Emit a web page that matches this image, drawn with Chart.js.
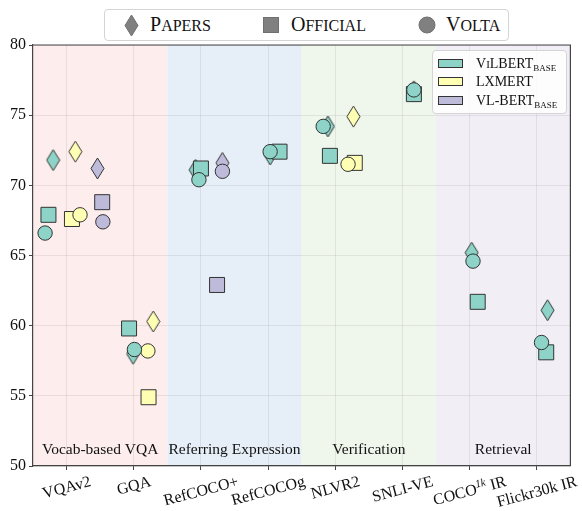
<!DOCTYPE html>
<html><head><meta charset="utf-8">
<script src="https://cdn.jsdelivr.net/npm/chart.js@4"></script>
<style>
html,body{margin:0;padding:0;background:#fff;}
#wrap{position:relative;width:582px;height:511px;overflow:hidden;}
#c{position:absolute;left:0;top:0;}
.serif{font-family:"Liberation Serif","Times New Roman",serif;color:#111;}
#topLegend{position:absolute;left:104px;top:9px;width:405px;height:32px;border:1px solid #d4d4d4;border-radius:4px;background:#fff;box-sizing:border-box;}
#topLegend .mk{position:absolute;}
#topLegend .tx{position:absolute;top:4px;font-size:20px;line-height:20px;white-space:nowrap;}
#topLegend .tx span{font-size:16px;}
#sideLegend{position:absolute;left:432px;top:50px;width:135px;height:64px;border:1px solid #d4d4d4;border-radius:4px;background:rgba(255,255,255,0.85);box-sizing:border-box;}
#sideLegend .patch{position:absolute;left:5px;width:25px;height:9px;border:1px solid #333;box-sizing:border-box;}
#sideLegend .tx{position:absolute;left:43px;font-size:14px;line-height:14px;white-space:nowrap;}
#sideLegend .sc{font-size:11px;}
#sideLegend sub{font-size:9px;vertical-align:-3px;line-height:0;}
</style>
</head><body>
<div id="wrap">
<canvas id="c" width="582" height="511"></canvas>
<div id="topLegend" class="serif">
  <svg class="mk" style="left:19px;top:4px" width="15" height="23"><path d="M7.5 1 L14 11.5 L7.5 22 L1 11.5 Z" fill="#808080" stroke="#707070" stroke-width="1"/></svg>
  <div class="tx" style="left:45px">P<span>APERS</span></div>
  <svg class="mk" style="left:158px;top:7px" width="16" height="16"><rect x="0.5" y="0.5" width="15" height="15" fill="#808080" stroke="#707070" stroke-width="1"/></svg>
  <div class="tx" style="left:186px">O<span>FFICIAL</span></div>
  <svg class="mk" style="left:313px;top:6px" width="18" height="18"><circle cx="9" cy="9" r="8" fill="#808080" stroke="#707070" stroke-width="1"/></svg>
  <div class="tx" style="left:341px">V<span>OLTA</span></div>
</div>
<div id="sideLegend" class="serif">
  <div class="patch" style="top:8px;background:#8dd3c7"></div>
  <div class="tx" style="top:6px">V<span class="sc">I</span>LBERT<sub>BASE</sub></div>
  <div class="patch" style="top:26px;background:#ffffb3"></div>
  <div class="tx" style="top:24px">LXMERT</div>
  <div class="patch" style="top:45px;background:#bebada"></div>
  <div class="tx" style="top:43px">VL-BERT<sub>BASE</sub></div>
</div>
</div>
<script>
// ---------- data ----------
const categories = ['VQAv2','GQA','RefCOCO+','RefCOCOg','NLVR2','SNLI-VE','COCO^{1k} IR','Flickr30k IR'];
const taskGroups = ['Vocab-based VQA','Referring Expression','Verification','Retrieval'];
const groupRanges = [[0,1],[2,3],[4,5],[6,7]];
const yTicks = [50,55,60,65,70,75,80];

const vilbertPapers   = [71.8, 58.0, 71.1, 72.2, 74.2, 76.7, 65.2, 61.1];
const vilbertOfficial = [67.9, 59.8, 71.2, 72.4, 72.1, 76.5, 61.7, 58.1];
const vilbertVolta    = [66.6, 58.3, 70.4, 72.4, 74.2, 76.8, 64.6, 58.8];
const lxmertPapers    = [72.4, 60.3, null, null, 74.9, null, null, null];
const lxmertOfficial  = [67.6, 54.9, null, null, 71.6, null, null, null];
const lxmertVolta     = [67.9, 58.2, null, null, 71.5, null, null, null];
const vlbertPapers    = [71.2, null, 71.6, null, null, null, null, null];
const vlbertOfficial  = [68.8, null, 62.9, null, null, null, null, null];
const vlbertVolta     = [67.4, null, 71.0, null, null, null, null, null];

// horizontal jitter of each marker within its category (category units)
const vilbertPapersJit   = [-0.20,-0.01,-0.08, 0.03,-0.11, 0.17, 0.03, 0.16];
const vilbertOfficialJit = [-0.27,-0.07, 0.00, 0.17,-0.08, 0.17, 0.12, 0.14];
const vilbertVoltaJit    = [-0.32, 0.01,-0.03, 0.03,-0.18, 0.17, 0.05, 0.07];
const lxmertPapersJit    = [ 0.13, 0.29, 0, 0, 0.27, 0, 0, 0];
const lxmertOfficialJit  = [ 0.08, 0.22, 0, 0, 0.29, 0, 0, 0];
const lxmertVoltaJit     = [ 0.20, 0.21, 0, 0, 0.19, 0, 0, 0];
const vlbertPapersJit    = [ 0.46, 0, 0.32, 0, 0, 0, 0, 0];
const vlbertOfficialJit  = [ 0.53, 0, 0.24, 0, 0, 0, 0, 0];
const vlbertVoltaJit     = [ 0.54, 0, 0.32, 0, 0, 0, 0, 0];

// ---------- styles ----------
const FONT = '"Liberation Serif","Times New Roman",serif';
const modelColors = {vilbert:'#8dd3c7', lxmert:'#ffffb3', vlbert:'#bebada'};
const bandColors = ['#fdeded','#e6eef7','#eff6ec','#f2eef6'];
const EDGE = '#333';

function diamondImg(fill){
  const c = document.createElement('canvas'); c.width = 15; c.height = 23;
  const g = c.getContext('2d');
  g.beginPath(); g.moveTo(7.5,1); g.lineTo(14,11.5); g.lineTo(7.5,22); g.lineTo(1,11.5); g.closePath();
  g.fillStyle = fill; g.fill(); g.lineWidth = 1; g.strokeStyle = EDGE; g.stroke();
  return c;
}
function pts(vals, jit){
  const out = [];
  vals.forEach((v,i)=>{ if (v !== null) out.push({x: i + jit[i], y: v}); });
  return out;
}
const series = [
  ['vilbert', vilbertPapers, vilbertPapersJit, vilbertOfficial, vilbertOfficialJit, vilbertVolta, vilbertVoltaJit],
  ['lxmert', lxmertPapers, lxmertPapersJit, lxmertOfficial, lxmertOfficialJit, lxmertVolta, lxmertVoltaJit],
  ['vlbert', vlbertPapers, vlbertPapersJit, vlbertOfficial, vlbertOfficialJit, vlbertVolta, vlbertVoltaJit]
];
const datasets = [];
series.forEach(([m, p, pj, o, oj, v, vj])=>{
  const col = modelColors[m];
  datasets.push({label:m+' papers', data:pts(p,pj), pointStyle:diamondImg(col), pointRadius:8, order:2});
  datasets.push({label:m+' official', data:pts(o,oj), pointStyle:'rect', pointRadius:10.6,
    backgroundColor:col, borderColor:EDGE, borderWidth:1, order:1});
  datasets.push({label:m+' volta', data:pts(v,vj), pointStyle:'circle', pointRadius:7.2,
    backgroundColor:col, borderColor:EDGE, borderWidth:1, order:0});
});

function parseRuns(label){
  const runs = []; const re = /\^\{([^}]*)\}/g; let last = 0, m;
  while ((m = re.exec(label))) {
    if (m.index > last) runs.push({t: label.slice(last, m.index), sup:false});
    runs.push({t: m[1], sup:true}); last = re.lastIndex;
  }
  if (last < label.length) runs.push({t: label.slice(last), sup:false});
  return runs;
}

const decor = {
  id:'decor',
  beforeDraw(chart){
    const {ctx, chartArea:a, scales:{x}} = chart;
    ctx.save();
    groupRanges.forEach((r,i)=>{
      const x0 = x.getPixelForValue(r[0]-0.5), x1 = x.getPixelForValue(r[1]+0.5);
      ctx.fillStyle = bandColors[i];
      ctx.fillRect(x0, a.top, x1-x0, a.bottom-a.top);
    });
    ctx.restore();
  },
  beforeDatasetsDraw(chart){
    const {ctx, chartArea:a, scales:{x}} = chart;
    ctx.save();
    ctx.font = '15.5px ' + FONT; ctx.fillStyle = '#111';
    ctx.textAlign = 'center'; ctx.textBaseline = 'alphabetic';
    groupRanges.forEach((r,i)=>{
      const cx = (x.getPixelForValue(r[0]-0.5) + x.getPixelForValue(r[1]+0.5))/2;
      ctx.fillText(taskGroups[i], cx, a.bottom - 12);
    });
    ctx.restore();
  },
  afterDraw(chart){
    const {ctx, chartArea:a, scales:{x}} = chart;
    ctx.save();
    // top and right spines
    ctx.strokeStyle = '#444'; ctx.lineWidth = 1.2;
    ctx.beginPath();
    ctx.moveTo(a.left, a.top); ctx.lineTo(a.right, a.top); ctx.lineTo(a.right, a.bottom);
    ctx.stroke();
    // rotated x labels, centred on ticks
    const th = 15*Math.PI/180, fs = 16, H = 18;
    ctx.fillStyle = '#111'; ctx.textBaseline = 'alphabetic'; ctx.textAlign = 'left';
    categories.forEach((lab,i)=>{
      const runs = parseRuns(lab);
      let W = 0;
      runs.forEach(r=>{ ctx.font = r.sup ? 'italic 11px '+FONT : fs+'px '+FONT; r.w = ctx.measureText(r.t).width; W += r.w; });
      const bh = W*Math.sin(th) + H*Math.cos(th);
      const cx = x.getPixelForValue(i), cy = a.bottom + 6 + bh/2;
      ctx.save();
      ctx.translate(cx, cy); ctx.rotate(-th);
      let px = -W/2;
      runs.forEach(r=>{
        ctx.font = r.sup ? 'italic 11px '+FONT : fs+'px '+FONT;
        ctx.fillText(r.t, px, fs*0.33 - (r.sup ? 6 : 0));
        px += r.w;
      });
      ctx.restore();
    });
    ctx.restore();
  }
};

new Chart(document.getElementById('c'), {
  type:'scatter',
  data:{datasets},
  options:{
    responsive:false, animation:false, devicePixelRatio:1,
    layout:{padding:{top:45, right:9, left:0, bottom:0}},
    plugins:{legend:{display:false}, tooltip:{enabled:false}},
    scales:{
      x:{type:'linear', min:-0.5, max:7.5,
        afterBuildTicks:s=>{ s.ticks = categories.map((c,i)=>({value:i})); },
        ticks:{display:false},
        grid:{color:'rgba(0,0,0,0.07)', lineWidth:1, tickColor:'#444', tickLength:4, drawTicks:true},
        border:{color:'#444', width:1.2},
        afterFit:s=>{ s.height = 45; }
      },
      y:{type:'linear', min:50, max:80,
        afterBuildTicks:s=>{ s.ticks = yTicks.map(v=>({value:v})); },
        ticks:{font:{family:FONT, size:16}, color:'#111', padding:3},
        grid:{color:'rgba(0,0,0,0.07)', lineWidth:1, tickColor:'#444', tickLength:4, drawTicks:true},
        border:{color:'#444', width:1.2},
        afterFit:s=>{ s.width = 33; }
      }
    }
  },
  plugins:[decor]
});
</script>
</body></html>
